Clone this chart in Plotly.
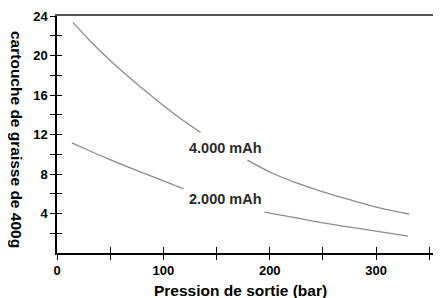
import plotly.graph_objects as go

# Data
pression_4000 = [15, 30, 50, 70, 90, 110, 135, None, 179, 200, 225, 250, 275, 300, 331]
graisse_4000 = [23.35, 21.6, 19.5, 17.6, 15.8, 14.1, 12.2, None, 9.4, 8.2, 7.1, 6.2, 5.4, 4.65, 3.95]

pression_2000 = [14, 30, 50, 70, 90, 119, None, 195, 225, 250, 275, 300, 330]
graisse_2000 = [11.15, 10.38, 9.45, 8.57, 7.73, 6.5, None, 4.15, 3.55, 3.05, 2.62, 2.22, 1.7]

x_tickvals = [0, 50, 100, 150, 200, 250, 300, 350]
x_ticktext = ["0", "", "100", "", "200", "", "300", ""]
y_tickvals = [2, 4, 6, 8, 10, 12, 14, 16, 18, 20, 22, 24]
y_ticktext = ["", "4", "", "8", "", "12", "", "16", "", "20", "", "24"]

series_labels = ["4.000 mAh", "2.000 mAh"]
label_x = [158, 158]
label_y = [10.6, 5.45]

x_range = [0, 361]
y_range = [0, 24]

FONT = "Liberation Sans"
LINE_COLOR = "#8c8c8c"

fig = go.Figure()
fig.add_trace(go.Scatter(x=pression_4000, y=graisse_4000, mode="lines",
                         line=dict(color=LINE_COLOR, width=1.3, shape="spline", smoothing=0.8),
                         connectgaps=False, showlegend=False, hoverinfo="skip"))
fig.add_trace(go.Scatter(x=pression_2000, y=graisse_2000, mode="lines",
                         line=dict(color=LINE_COLOR, width=1.3, shape="spline", smoothing=0.8),
                         connectgaps=False, showlegend=False, hoverinfo="skip"))

# empty helper traces so that the overlay axes (top line, crossing ticks) get drawn
for xa, ya in [("x2", "y"), ("x3", "y"), ("x", "y2"), ("x", "y3")]:
    fig.add_trace(go.Scatter(x=[None], y=[None], xaxis=xa, yaxis=ya, mode="lines",
                             showlegend=False, hoverinfo="skip"))

for txt, lx, ly in zip(series_labels, label_x, label_y):
    fig.add_annotation(x=lx, y=ly, text=txt, showarrow=False,
                       xanchor="center", yanchor="middle",
                       font=dict(family=FONT, size=14.5, color="#2a2a2a", weight="bold"),
                       xref="x", yref="y")

tickfont = dict(family=FONT, size=13, color="black", weight="bold")
noaxis = dict(showgrid=False, zeroline=False, automargin=False)

fig.update_layout(
    width=433, height=290,
    margin=dict(l=49, r=0, t=8, b=45, autoexpand=False),
    paper_bgcolor="white", plot_bgcolor="white",
    xaxis=dict(range=x_range, tickvals=x_tickvals, ticktext=x_ticktext,
               ticks="outside", ticklen=5, tickcolor="black", tickwidth=1,
               showline=True, linecolor="black", linewidth=1.5,
               tickfont=tickfont, **noaxis),
    yaxis=dict(range=y_range, tickvals=y_tickvals, ticktext=y_ticktext,
               ticks="outside", ticklen=5, tickcolor="black", tickwidth=1,
               showline=True, linecolor="black", linewidth=1.5,
               tickfont=tickfont, **noaxis),
    xaxis2=dict(range=x_range, overlaying="x", side="top", anchor="y",
                showline=True, linecolor="#555555", linewidth=2,
                ticks="", showticklabels=False, **noaxis),
    xaxis3=dict(range=x_range, overlaying="x", side="bottom", anchor="y",
                tickvals=x_tickvals, ticks="inside", ticklen=6, tickcolor="black",
                showticklabels=False, showline=False, **noaxis),
    yaxis2=dict(range=y_range, overlaying="y", side="right", anchor="x",
                tickvals=y_tickvals, ticks="inside", ticklen=4, tickcolor="black",
                showticklabels=False, showline=False, **noaxis),
    yaxis3=dict(range=y_range, overlaying="y", side="left", anchor="x",
                tickvals=y_tickvals, ticks="inside", ticklen=5, tickcolor="black",
                showticklabels=False, showline=False, **noaxis),
)

fig.add_annotation(text="Pression de sortie (bar)", x=0.479, xref="paper",
                   xanchor="center", yanchor="middle",
                   y=0, yref="paper", yshift=-37, showarrow=False,
                   font=dict(family=FONT, size=15.5, color="black", weight="bold"))
fig.add_annotation(text="cartouche de graisse de 400g", textangle=90,
                   x=0, xref="paper", xshift=-40, xanchor="center",
                   y=0.481, yref="paper", yanchor="middle",
                   showarrow=False,
                   font=dict(family=FONT, size=15.5, color="black", weight="bold"))

fig.write_html("out.html")
